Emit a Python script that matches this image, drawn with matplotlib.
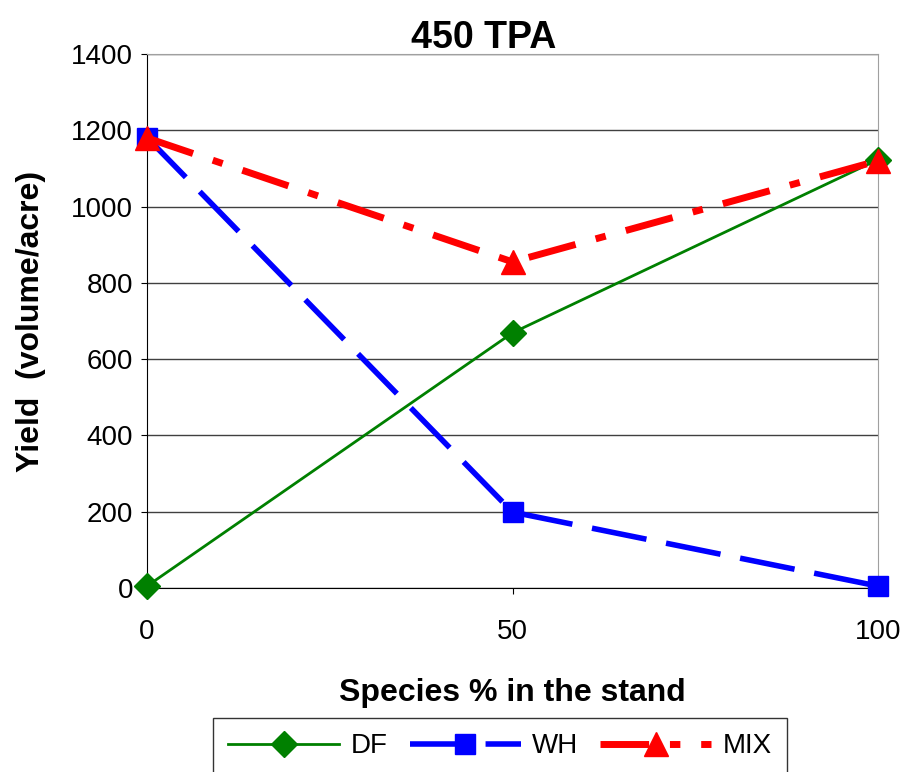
import matplotlib
matplotlib.use("Agg")
import matplotlib.pyplot as plt

x = [0, 50, 100]
df = [5, 669, 1123]
wh = [1181, 199, 5]
mix = [1180, 855, 1120]
yticks = [0, 200, 400, 600, 800, 1000, 1200, 1400]
xticks = [0, 50, 100]

plt.rcParams['font.family'] = ['Liberation Sans', 'DejaVu Sans']

fig = plt.figure(figsize=(9.08, 7.72), dpi=100)
ax = fig.add_axes([147/908, 1-588/772, (878-147)/908, (588-54)/772])

ax.plot(x, df, color='#008000', lw=2, marker='D', ms=13, label='DF', zorder=3, clip_on=False)
ax.plot(x, wh, color='#0000ff', lw=4, ls=(0, (10, 3.6)), marker='s', ms=15, label='WH', zorder=3, clip_on=False)
ax.plot(x, mix, color='#ff0000', lw=5, ls=(0, (7, 3, 1.5, 3)), marker='^', ms=17, label='MIX', zorder=4, clip_on=False)

ax.set_xlim(0, 100)
ax.set_ylim(0, 1400)
ax.set_yticks(yticks)
ax.set_xticks(xticks)
ax.tick_params(axis='both', labelsize=20, length=4, color='black')
ax.tick_params(axis='x', pad=18)
ax.tick_params(axis='y', pad=6)
ax.grid(axis='y', color='#404040', lw=1)
ax.set_axisbelow(True)
for s in ['top', 'right']:
    ax.spines[s].set_color('#a0a0a0')
ax.spines['left'].set_color('black')
ax.spines['bottom'].set_color('black')

fig.text(484/908, 1-38/772, '450 TPA', fontsize=27, fontweight='bold', ha='center', va='center')
ax.set_xlabel('Species % in the stand', fontsize=23, fontweight='bold', labelpad=24)
ax.set_ylabel('Yield  (volume/acre)', fontsize=23, fontweight='bold', labelpad=18)

leg = fig.legend(loc='upper left', bbox_to_anchor=(213/908, 1-718/772), ncol=3, fontsize=20,
                 frameon=True, fancybox=False, edgecolor='black', handlelength=4.0,
                 columnspacing=0.8, handletextpad=0.4, borderpad=0.55, borderaxespad=0)
leg.get_frame().set_linewidth(1)

fig.savefig('out.png', dpi=100)
